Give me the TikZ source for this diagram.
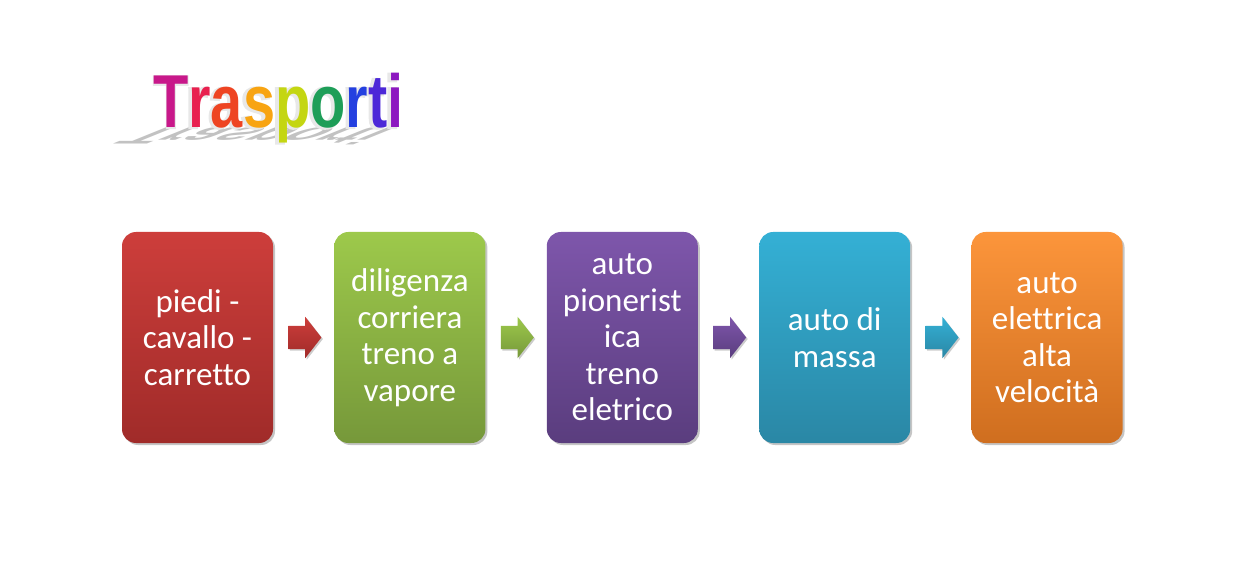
\documentclass[tikz,border=0pt]{standalone}
\usepackage{fontspec}
\setmainfont{Carlito}[Ligatures=NoCommon]
\newfontfamily\titlefont{Liberation Sans}
\newfontfamily\titlehalo{Liberation Sans Bold}[FakeBold=3]
\usetikzlibrary{positioning,shapes.arrows,shadows}
\definecolor{redtop}{HTML}{CD3E3B}
\definecolor{redbot}{HTML}{A02B29}
\definecolor{greentop}{HTML}{9DC94B}
\definecolor{greenbot}{HTML}{76983A}
\definecolor{purpletop}{HTML}{7E56AB}
\definecolor{purplebot}{HTML}{5A3D7E}
\definecolor{tealtop}{HTML}{34B0D5}
\definecolor{tealbot}{HTML}{2A87A5}
\definecolor{orangetop}{HTML}{FC953B}
\definecolor{orangebot}{HTML}{CF6E1F}
\newcommand{\titleword}{\color[HTML]{C8188A}T\color[HTML]{E8204F}r\color[HTML]{EE4422}a\color[HTML]{F8A412}s\color[HTML]{C4D612}p\color[HTML]{1E9E58}o\color[HTML]{2440E0}r\color[HTML]{4C28D8}t\color[HTML]{8C18C0}i}
\tikzset{
  tone/.style 2 args={top color=#1,bottom color=#2},
  stepbox/.style={rounded corners=14pt,minimum width=151pt,minimum height=211pt,inner sep=0pt,
    align=center,text=white,font=\fontsize{33}{36.5}\selectfont,
    drop shadow={shadow xshift=2pt,shadow yshift=-2pt,fill=black!45}},
  flowarrow/.style={single arrow,single arrow head extend=9pt,single arrow tip angle=104,
    minimum height=33pt,inner xsep=0pt,inner ysep=11.5pt,
    drop shadow={shadow xshift=1.5pt,shadow yshift=-1.5pt,fill=black!40}},
  titletext/.style={anchor=base west,inner sep=0pt,font=\titlefont\bfseries\fontsize{75}{75}\selectfont}
}
\begin{document}
\begin{tikzpicture}[x=1pt,y=1pt]
\useasboundingbox (0,0) rectangle (1236,576);
% title with its shadow
\begin{scope}[shift={(153,448)},xslant=2.47,yscale=-0.32]
\node[titletext,transform shape,text=black!24] (tshadow) at (0,0) {\scalebox{0.77}[1]{Trasporti}};
\end{scope}
\node[titletext,font=\titlehalo\fontsize{75}{75}\selectfont,text=black!9] (thalo) at (153,448) {\scalebox{0.77}[1]{Trasporti}};
\node[titletext] (title) at (153,448) {\scalebox{0.77}[1]{\titleword}};
% boxes
\node[stepbox,tone={redtop}{redbot}] (b1) at (197.5,238.5) {piedi -\\cavallo -\\carretto};
\node[stepbox,tone={greentop}{greenbot},right=61pt of b1] (b2) {diligenza\\corriera\\treno a\\vapore};
\node[stepbox,tone={purpletop}{purplebot},right=61pt of b2] (b3) {auto\\pionerist\\ica\\treno\\eletrico};
\node[stepbox,tone={tealtop}{tealbot},right=61pt of b3] (b4) {auto di\\massa};
\node[stepbox,tone={orangetop}{orangebot},right=61pt of b4] (b5) {auto\\elettrica\\alta\\velocità};
% arrows
\node[flowarrow,tone={redtop}{redbot},right=15pt of b1] (a1) {};
\node[flowarrow,tone={greentop}{greenbot},right=15pt of b2] (a2) {};
\node[flowarrow,tone={purpletop}{purplebot},right=15pt of b3] (a3) {};
\node[flowarrow,tone={tealtop}{tealbot},right=15pt of b4] (a4) {};
\end{tikzpicture}
\end{document}
